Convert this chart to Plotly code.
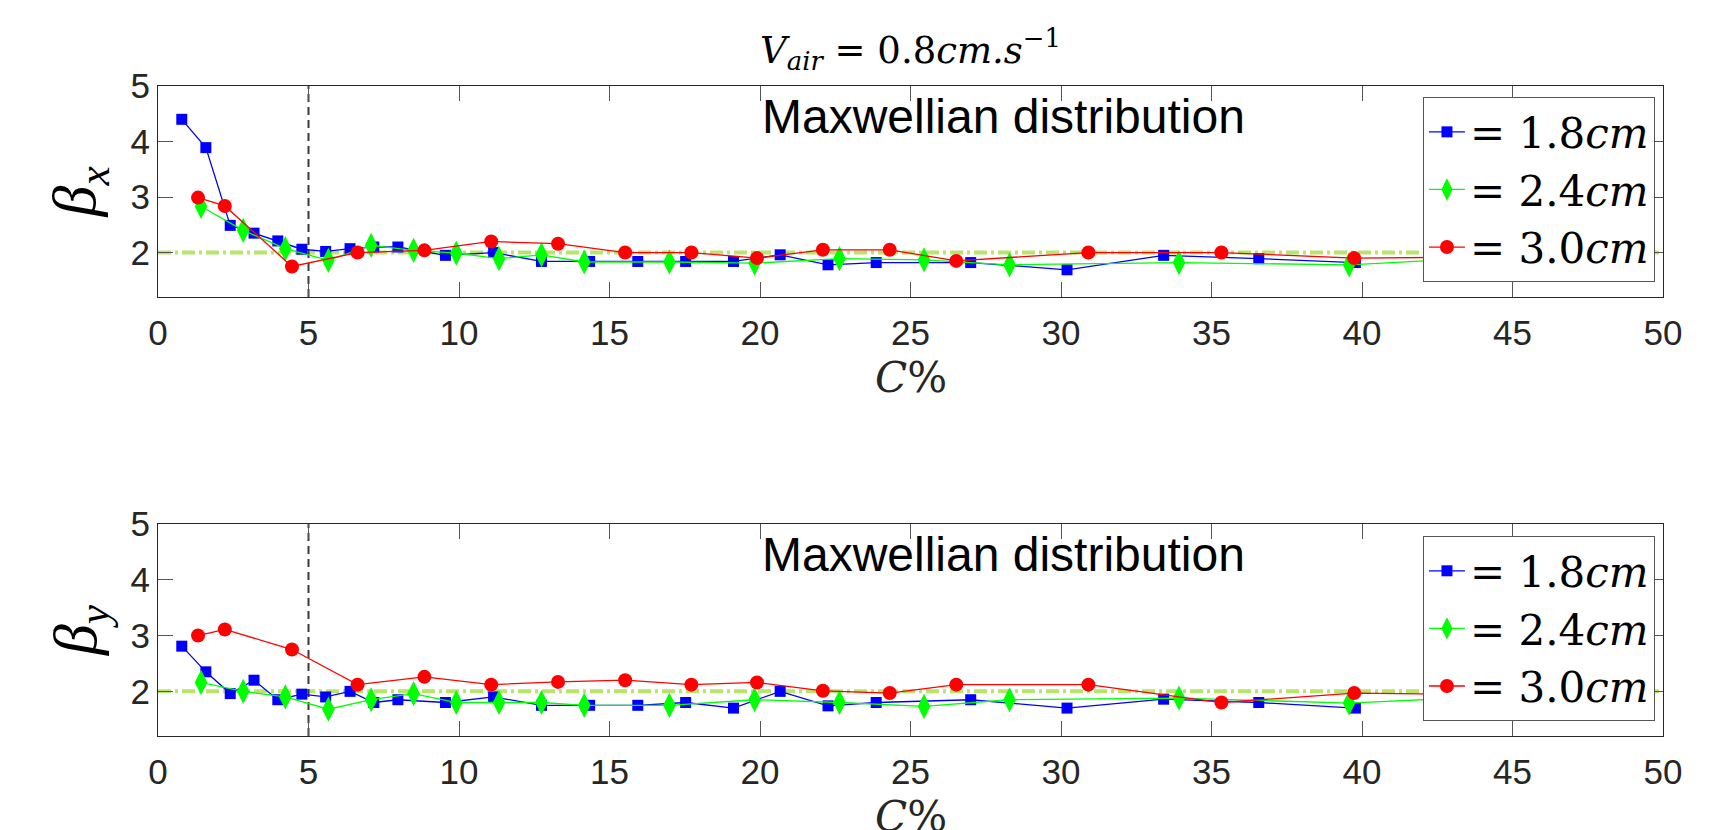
import plotly.graph_objects as go

# ---------------- data ----------------
C_18 = [0.79, 1.59, 2.40, 3.19, 3.98, 4.78, 5.57, 6.38, 7.17, 7.97, 9.55, 11.15, 12.74,
        14.34, 15.94, 17.53, 19.12, 20.67, 22.26, 23.86, 27.0, 30.2, 33.41, 36.57, 39.78]
bx_18 = [4.40, 3.89, 2.49, 2.35, 2.21, 2.06, 2.02, 2.07, 2.10, 2.10, 1.95, 2.00, 1.84,
         1.84, 1.84, 1.84, 1.84, 1.96, 1.78, 1.82, 1.82, 1.69, 1.95, 1.89, 1.82]
by_18 = [2.81, 2.35, 1.96, 2.20, 1.85, 1.95, 1.90, 2.00, 1.80, 1.85, 1.80, 1.90, 1.75,
         1.75, 1.75, 1.80, 1.70, 2.00, 1.74, 1.80, 1.85, 1.70, 1.86, 1.80, 1.70]

C_24 = [1.43, 2.83, 4.23, 5.66, 7.08, 8.49, 9.91, 11.33, 12.74, 14.16, 16.99, 19.82,
        22.64, 25.45, 28.29, 33.92, 39.57, 45.2]
bx_24 = [2.83, 2.40, 2.07, 1.86, 2.13, 2.04, 1.99, 1.89, 1.96, 1.83, 1.83, 1.81,
         1.89, 1.87, 1.78, 1.82, 1.78, 1.94]
by_24 = [2.16, 2.00, 1.90, 1.68, 1.85, 1.96, 1.80, 1.80, 1.80, 1.75, 1.75, 1.85,
         1.80, 1.73, 1.85, 1.88, 1.79, 1.93]

C_30 = [1.33, 2.22, 4.45, 6.63, 8.85, 11.07, 13.29, 15.52, 17.72, 19.90, 22.09, 24.31,
        26.52, 30.91, 35.33, 39.74, 44.2]
bx_30 = [2.99, 2.84, 1.75, 2.00, 2.04, 2.20, 2.16, 2.00, 2.00, 1.90, 2.05, 2.05,
         1.85, 2.00, 2.00, 1.90, 1.92]
by_30 = [3.00, 3.11, 2.75, 2.12, 2.26, 2.12, 2.17, 2.20, 2.12, 2.16, 2.01, 1.97,
         2.12, 2.12, 1.80, 1.97, 1.94]

labels = ["= 1.8<i>cm</i>", "= 2.4<i>cm</i>", "= 3.0<i>cm</i>"]
colors = ["#0000ff", "#00ff00", "#ff0000"]
symbols = ["square", "diamond-tall", "circle"]
msizes = [11, 18, 14]

x_ticks = list(range(0, 51, 5))
y_ticks = [2, 3, 4, 5]
ref_beta = 2.0
ref_C = 5.0

# ---------------- figure ----------------
fig = go.Figure()
groups = [(C_18, bx_18, by_18), (C_24, bx_24, by_24), (C_30, bx_30, by_30)]
for i, (cx, byx, byy) in enumerate(groups):
    for ax, yy, leg in (("", byx, "legend"), ("2", byy, "legend2")):
        fig.add_trace(go.Scatter(
            x=cx, y=yy, mode="lines+markers", name=labels[i],
            xaxis="x" + ax, yaxis="y" + ax, legend=leg,
            line=dict(color=colors[i], width=1.3),
            marker=dict(symbol=symbols[i], size=msizes[i], color=colors[i], line=dict(width=0)),
        ))

SANS = "Liberation Sans, Arial, sans-serif"
SERIF = "Liberation Serif, Times New Roman, serif"
DSERIF = "DejaVu Serif, serif"
AX = "#262626"

axis_common = dict(showline=True, linecolor=AX, linewidth=1, mirror="ticks",
                   ticks="inside", ticklen=15, tickcolor="#555555", tickwidth=1,
                   showgrid=False, zeroline=False,
                   tickfont=dict(family=SANS, size=35, color=AX))

shapes = []
for ax in ("", "2"):
    xr = "x" + ax
    yr = "y" + ax
    shapes.append(dict(type="line", xref=xr + " domain", yref=yr, x0=0, x1=1,
                       y0=ref_beta, y1=ref_beta, layer="below",
                       line=dict(color="rgb(184,228,108)", width=4, dash="13px,4px,3px,4px")))
    shapes.append(dict(type="line", xref=xr, yref=yr + " domain", x0=ref_C, x1=ref_C,
                       y0=0, y1=1, layer="below",
                       line=dict(color="#3a3a3a", width=2, dash="8px,5px")))

legend_common = dict(bgcolor="white", bordercolor="#555555", borderwidth=1,
                     font=dict(family=DSERIF, size=42, color="black"),
                     xanchor="left", yanchor="top", itemwidth=36,
                     tracegroupgap=0)

annotations = [
    dict(text="<i>V</i><sub><i>air</i></sub> = 0.8<i>cm.s</i><sup>−1</sup>",
         xref="paper", yref="paper", x=0.5, y=1.0554, showarrow=False,
         font=dict(family=DSERIF, size=37, color="black"), yanchor="middle"),
    dict(text="<i>C</i>%", xref="paper", yref="paper", x=0.5, y=0.5508, showarrow=False,
         font=dict(family=DSERIF, size=42, color=AX), yanchor="middle"),
    dict(text="<i>C</i>%", xref="paper", yref="paper", x=0.5, y=-0.1246, showarrow=False,
         font=dict(family=DSERIF, size=42, color=AX), yanchor="middle"),
    dict(text="<i>β</i><sub><i>x</i></sub>", xref="paper", yref="paper", x=-0.0525, y=0.8377,
         showarrow=False, textangle=-90, xanchor="center", yanchor="middle",
         font=dict(family=SERIF, size=62, color="black")),
    dict(text="<i>β</i><sub><i>y</i></sub>", xref="paper", yref="paper", x=-0.0525, y=0.163,
         showarrow=False, textangle=-90, xanchor="center", yanchor="middle",
         font=dict(family=SERIF, size=62, color="black")),
    dict(text="Maxwellian distribution", xref="x", yref="y", x=20, y=4.45, showarrow=False,
         xanchor="left", yanchor="middle", font=dict(family=SANS, size=48, color="black")),
    dict(text="Maxwellian distribution", xref="x2", yref="y2", x=20, y=4.45, showarrow=False,
         xanchor="left", yanchor="middle", font=dict(family=SANS, size=48, color="black")),
]

fig.update_layout(
    width=1734, height=830,
    margin=dict(l=158, r=71, t=86, b=94),
    paper_bgcolor="white", plot_bgcolor="white",
    xaxis=dict(domain=[0, 1], anchor="y", range=[0, 50], tickvals=x_ticks,
               ticklabelstandoff=5, **axis_common),
    yaxis=dict(domain=[0.6754, 1], anchor="x", range=[1.2, 5], tickvals=y_ticks, **axis_common),
    xaxis2=dict(domain=[0, 1], anchor="y2", range=[0, 50], tickvals=x_ticks,
                ticklabelstandoff=5, **axis_common),
    yaxis2=dict(domain=[0, 0.3262], anchor="x2", range=[1.2, 5], tickvals=y_ticks, **axis_common),
    legend=dict(x=0.8405, y=0.983, **legend_common),
    legend2=dict(x=0.8405, y=0.3077, **legend_common),
    shapes=shapes,
    annotations=annotations,
    showlegend=True,
)

fig.write_html("out.html", config={"displayModeBar": False},
               post_script="document.body.style.margin='0';document.body.style.overflow='hidden';")
